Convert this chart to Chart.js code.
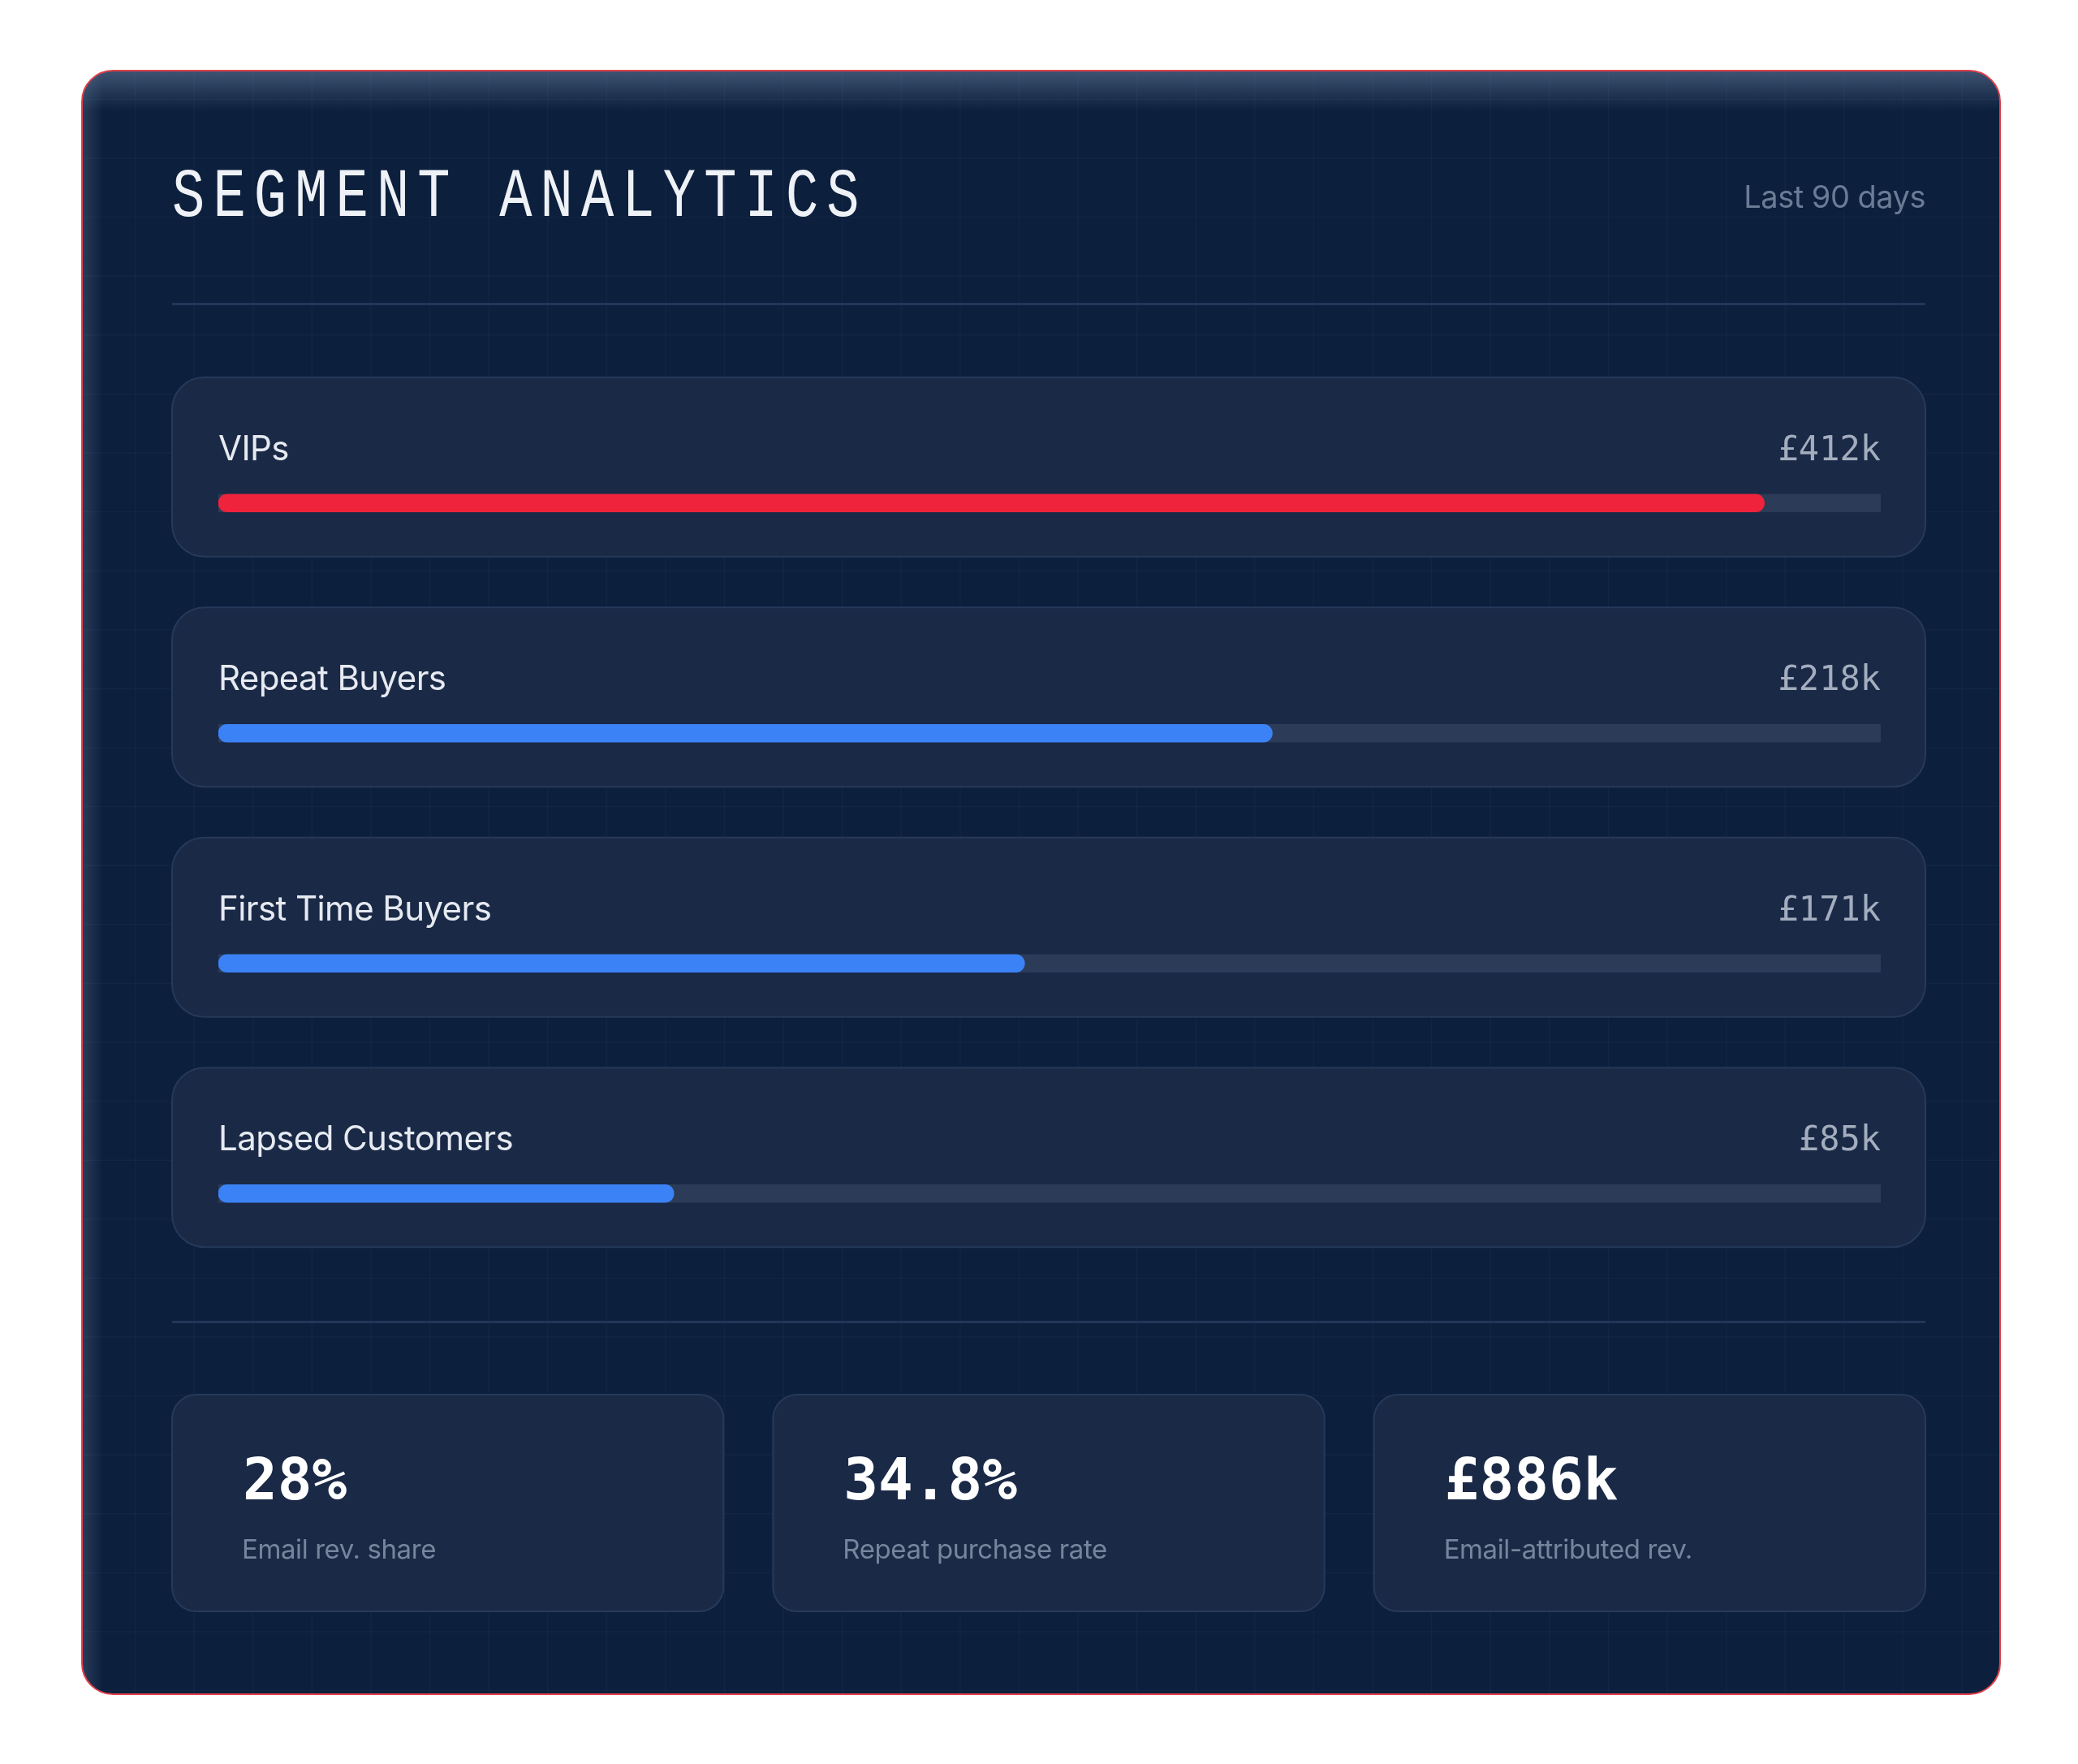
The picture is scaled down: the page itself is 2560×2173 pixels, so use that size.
<!DOCTYPE html>
<html>
<head>
<meta charset="utf-8">
<script src="https://cdn.jsdelivr.net/npm/chart.js@4.4.1/dist/chart.umd.min.js"></script>
<style>
  html, body { margin: 0; padding: 0; background: #ffffff; }
  #wrap { width: 2560px; height: 2173px; position: relative; }
</style>
</head>
<body>
<div id="wrap"><canvas id="c"></canvas></div>
<script>
// ---- data ----
const categories = ['VIPs', 'Repeat Buyers', 'First Time Buyers', 'Lapsed Customers'];
const revenueLabels = ['£412k', '£218k', '£171k', '£85k'];
const barShare = [93, 63.4, 48.5, 27.4];          // filled portion of each track (%)
const trackFull = [100, 100, 100, 100];
const barColors = ['#ef233c', '#3b82f6', '#3b82f6', '#3b82f6'];
const kpiValues = ['28%', '34.8%', '£886k'];
const kpiLabels = ['Email rev. share', 'Repeat purchase rate', 'Email-attributed rev.'];
const titleText = 'SEGMENT ANALYTICS';
const periodText = 'Last 90 days';

// ---- layout constants ----
const CARD = { x: 101, y: 87, w: 2363, h: 2000, r: 38 };
const INNER_L = 212, INNER_R = 2372;

function rr(ctx, x, y, w, h, r) {
  ctx.beginPath();
  ctx.moveTo(x + r, y);
  ctx.lineTo(x + w - r, y);
  ctx.arcTo(x + w, y, x + w, y + r, r);
  ctx.lineTo(x + w, y + h - r);
  ctx.arcTo(x + w, y + h, x + w - r, y + h, r);
  ctx.lineTo(x + r, y + h);
  ctx.arcTo(x, y + h, x, y + h - r, r);
  ctx.lineTo(x, y + r);
  ctx.arcTo(x, y, x + r, y, r);
  ctx.closePath();
}

const panelPlugin = {
  id: 'panel',
  beforeDatasetsDraw(chart) {
    const ctx = chart.ctx;
    const yS = chart.scales.y;
    ctx.save();
    ctx.letterSpacing = '0px';
    // card
    rr(ctx, CARD.x, CARD.y, CARD.w, CARD.h, CARD.r);
    ctx.fillStyle = '#0c1f3c';
    ctx.fill();
    ctx.save();
    rr(ctx, CARD.x, CARD.y, CARD.w, CARD.h, CARD.r);
    ctx.clip();
    // grid
    ctx.strokeStyle = 'rgba(120,150,200,0.06)';
    ctx.lineWidth = 1.5;
    const step = 72.6;
    for (let x = 21.3; x < 2560; x += step) {
      ctx.beginPath(); ctx.moveTo(x, CARD.y); ctx.lineTo(x, CARD.y + CARD.h); ctx.stroke();
    }
    for (let y = 49.8; y < 2173; y += step) {
      ctx.beginPath(); ctx.moveTo(CARD.x, y); ctx.lineTo(CARD.x + CARD.w, y); ctx.stroke();
    }
    // top glow
    let g = ctx.createLinearGradient(0, CARD.y, 0, CARD.y + 50);
    g.addColorStop(0, 'rgba(95,118,150,0.6)');
    g.addColorStop(1, 'rgba(95,118,150,0)');
    ctx.fillStyle = g;
    ctx.fillRect(CARD.x, CARD.y, CARD.w, 50);
    g = ctx.createLinearGradient(CARD.x, 0, CARD.x + 26, 0);
    g.addColorStop(0, 'rgba(95,118,150,0.35)');
    g.addColorStop(1, 'rgba(95,118,150,0)');
    ctx.fillStyle = g;
    ctx.fillRect(CARD.x, CARD.y, 26, CARD.h);
    ctx.restore();
    // red outline
    rr(ctx, CARD.x, CARD.y, CARD.w, CARD.h, CARD.r);
    ctx.strokeStyle = '#e0404a';
    ctx.lineWidth = 2;
    ctx.stroke();

    // title (condensed, widely tracked mono)
    ctx.save();
    ctx.fillStyle = '#eef1f6';
    ctx.font = '86px "Liberation Mono"';
    ctx.textAlign = 'left';
    ctx.textBaseline = 'alphabetic';
    ctx.translate(INNER_L, 266);
    ctx.scale(0.78, 1);
    ctx.letterSpacing = '13px';
    ctx.fillText(titleText, 0, 0);
    ctx.restore();
    ctx.letterSpacing = '0px';
    // period
    ctx.fillStyle = '#6b7b95';
    ctx.font = '38px Inter';
    ctx.letterSpacing = '-0.5px';
    ctx.textAlign = 'right';
    ctx.fillText(periodText, INNER_R, 256);
    ctx.letterSpacing = '0px';

    // dividers
    ctx.fillStyle = '#22365a';
    ctx.fillRect(INNER_L, 373, INNER_R - INNER_L, 3);
    ctx.fillRect(INNER_L, 1627, INNER_R - INNER_L, 3);

    // row boxes + labels
    categories.forEach((cat, i) => {
      const cy = yS.getPixelForValue(i);
      rr(ctx, INNER_L, cy - 155, INNER_R - INNER_L, 221, 40);
      ctx.fillStyle = '#1a2946';
      ctx.fill();
      ctx.strokeStyle = '#26395a';
      ctx.lineWidth = 2;
      ctx.stroke();
      ctx.fillStyle = '#e6eaf1';
      ctx.font = '42px Inter';
      ctx.letterSpacing = '-0.6px';
      ctx.textAlign = 'left';
      ctx.fillText(cat, chart.chartArea.left, cy - 53);
      ctx.fillStyle = '#a3adbe';
      ctx.font = '42px "DejaVu Sans Mono"';
      ctx.letterSpacing = '0px';
      ctx.textAlign = 'right';
      ctx.fillText(revenueLabels[i], chart.chartArea.right, cy - 53);
    });

    // KPI boxes
    const gap = 61;
    const kw = (INNER_R - INNER_L - 2 * gap) / 3;
    kpiValues.forEach((v, i) => {
      const x = INNER_L + i * (kw + gap);
      rr(ctx, x, 1718, kw, 267, 30);
      ctx.fillStyle = '#1a2946';
      ctx.fill();
      ctx.strokeStyle = '#26395a';
      ctx.lineWidth = 2;
      ctx.stroke();
      ctx.textAlign = 'left';
      ctx.fillStyle = '#ffffff';
      ctx.font = 'bold 71px "DejaVu Sans Mono"';
      ctx.fillText(v, x + 87, 1847);
      ctx.fillStyle = '#77859c';
      ctx.font = '33px Inter';
      ctx.letterSpacing = '-0.4px';
      ctx.fillText(kpiLabels[i], x + 86, 1920);
      ctx.letterSpacing = '0px';
    });
    ctx.restore();
  }
};

new Chart(document.getElementById('c'), {
  type: 'bar',
  data: {
    labels: categories,
    datasets: [
      {
        label: 'Share',
        data: barShare,
        backgroundColor: barColors,
        barThickness: 22,
        borderRadius: 11,
        borderSkipped: false,
        grouped: false,
        order: 0
      },
      {
        label: 'Track',
        data: trackFull,
        backgroundColor: '#2c3b57',
        barThickness: 22,
        borderRadius: 0,
        grouped: false,
        order: 1
      }
    ]
  },
  options: {
    indexAxis: 'y',
    responsive: true,
    maintainAspectRatio: false,
    devicePixelRatio: 1,
    animation: false,
    layout: { padding: { left: 269, right: 243, top: 478, bottom: 561 } },
    scales: {
      x: { display: false, min: 0, max: 100 },
      y: { display: false }
    },
    plugins: {
      legend: { display: false },
      tooltip: { enabled: false }
    }
  },
  plugins: [panelPlugin]
});
</script>
</body>
</html>
